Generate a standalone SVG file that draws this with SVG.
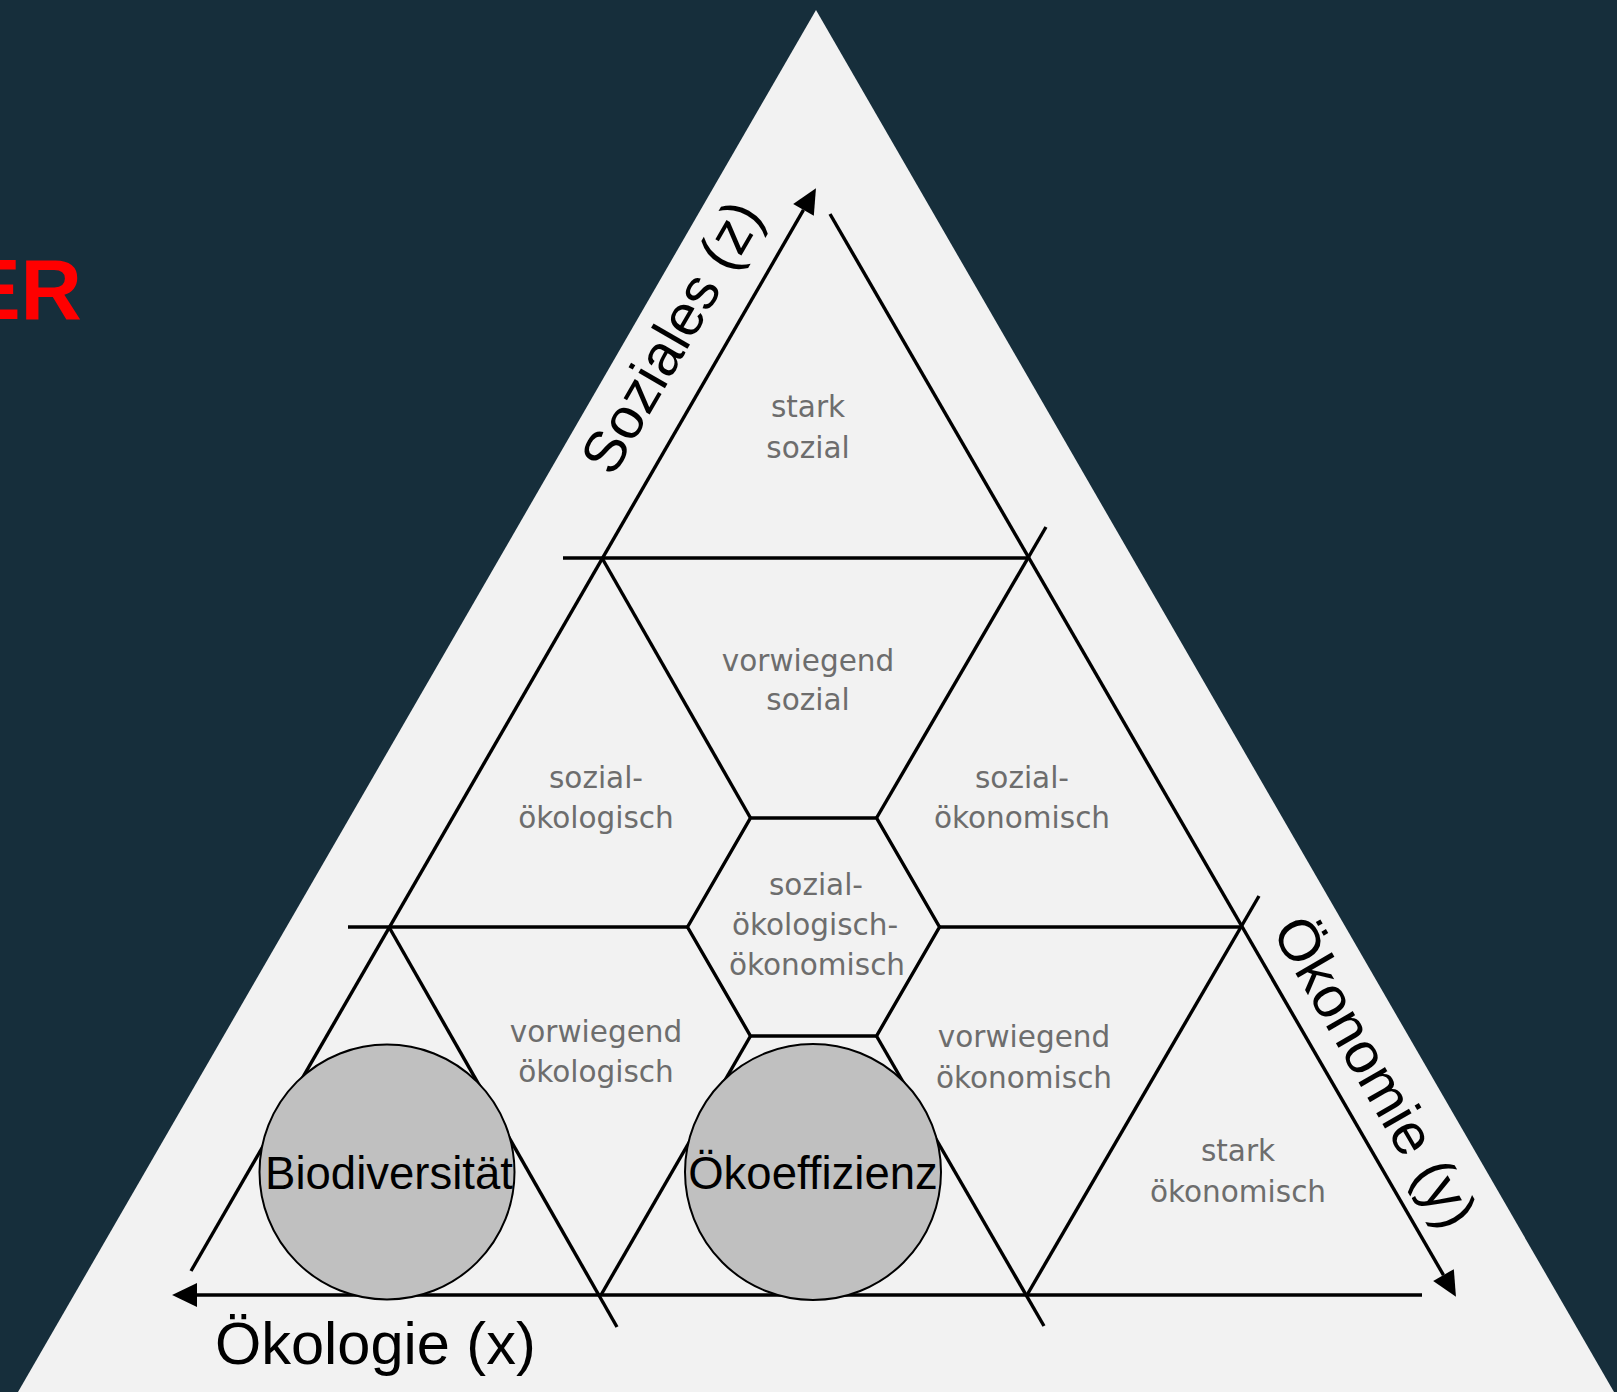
<svg xmlns="http://www.w3.org/2000/svg" width="1617" height="1392" viewBox="0 0 1617 1392">
  <defs>
    <marker id="arrow" markerUnits="userSpaceOnUse" markerWidth="26" markerHeight="26" viewBox="0 -12 24 24" refX="0" refY="0" orient="auto" overflow="visible">
      <path d="M0,-11 L23,0 L0,11 z" fill="#000"/>
    </marker>
    <style>
      .ln { stroke: #000; stroke-width: 3.4; fill: none; stroke-linecap: butt; }
      .ax { stroke: #000; stroke-width: 3.4; fill: none; marker-end: url(#arrow); }
      .lbl { font-family: "DejaVu Sans", "Liberation Sans", sans-serif; font-size: 29.5px; fill: #6d6d6d; text-anchor: middle; }
      .axis-t { font-family: "Liberation Sans", Arial, sans-serif; font-size: 58px; fill: #000; }
      .circ { fill: #c0c0c0; stroke: #000; stroke-width: 2; }
      .circ-t { font-family: "Liberation Sans", Arial, sans-serif; font-size: 45.5px; fill: #000; text-anchor: middle; }
    </style>
  </defs>

  <rect x="0" y="0" width="1617" height="1392" fill="#162e3b"/>
  <polygon points="816,10 18,1392 1614,1392" fill="#f2f2f2"/>

  <text x="82" y="319" font-family="'Liberation Sans', Arial, sans-serif" font-size="85" font-weight="bold" fill="#ff0000" text-anchor="end">ER</text>

  <g id="connectors">
    <!-- axes -->
    <path class="ax" d="M191,1271 L803.5,209.9"/>
    <path class="ax" d="M830,214 L1443.5,1275.1"/>
    <path class="ax" d="M1422,1295 L197,1295"/>
    <!-- horizontal grid lines -->
    <path class="ln" d="M563,558 L1028,558"/>
    <path class="ln" d="M348,927 L687.5,927"/>
    <path class="ln" d="M939.5,927 L1241,927"/>
    <!-- "\" lines -->
    <path class="ln" d="M602,558 L750.5,818"/>
    <path class="ln" d="M389,927 L617,1327"/>
    <path class="ln" d="M876.5,1036 L1044,1326"/>
    <!-- "/" lines -->
    <path class="ln" d="M1046,527 L876.5,818"/>
    <path class="ln" d="M750.5,1036 L601,1295"/>
    <path class="ln" d="M1259,896 L1027,1295"/>
    <!-- hexagon -->
    <polygon class="ln" points="687.5,927 750.5,818 876.5,818 939.5,927 876.5,1036 750.5,1036"/>
  </g>

  <g id="stark-sozial">
    <text class="lbl" x="808" y="417">stark</text>
    <text class="lbl" x="808" y="458">sozial</text>
  </g>
  <g id="vorwiegend-sozial">
    <text class="lbl" x="808" y="671">vorwiegend</text>
    <text class="lbl" x="808" y="710">sozial</text>
  </g>
  <g id="sozial-oekologisch">
    <text class="lbl" x="596" y="788">sozial-</text>
    <text class="lbl" x="596" y="828">ökologisch</text>
  </g>
  <g id="sozial-oekonomisch">
    <text class="lbl" x="1022" y="788">sozial-</text>
    <text class="lbl" x="1022" y="828">ökonomisch</text>
  </g>
  <g id="center-hex">
    <text class="lbl" x="816" y="895">sozial-</text>
    <text class="lbl" x="815" y="935">ökologisch-</text>
    <text class="lbl" x="817" y="975">ökonomisch</text>
  </g>
  <g id="vorwiegend-oekologisch">
    <text class="lbl" x="596" y="1042">vorwiegend</text>
    <text class="lbl" x="596" y="1082">ökologisch</text>
  </g>
  <g id="vorwiegend-oekonomisch">
    <text class="lbl" x="1024" y="1047">vorwiegend</text>
    <text class="lbl" x="1024" y="1088">ökonomisch</text>
  </g>
  <g id="stark-oekonomisch">
    <text class="lbl" x="1238" y="1161">stark</text>
    <text class="lbl" x="1238" y="1202">ökonomisch</text>
  </g>

  <g id="biodiversitaet">
    <circle class="circ" cx="387" cy="1172" r="127.5"/>
    <text class="circ-t" x="389" y="1189">Biodiversität</text>
  </g>
  <g id="oekoeffizienz">
    <circle class="circ" cx="813" cy="1172" r="128"/>
    <text class="circ-t" x="813" y="1189">Ökoeffizienz</text>
  </g>

  <g id="axis-labels">
    <text class="axis-t" transform="translate(613,478) rotate(-60)">Soziales (z)</text>
    <text class="axis-t" transform="translate(1271,931) rotate(60)">Ökonomie (y)</text>
    <text class="axis-t" x="215" y="1364" style="font-size:59.5px">Ökologie (x)</text>
  </g>
</svg>
